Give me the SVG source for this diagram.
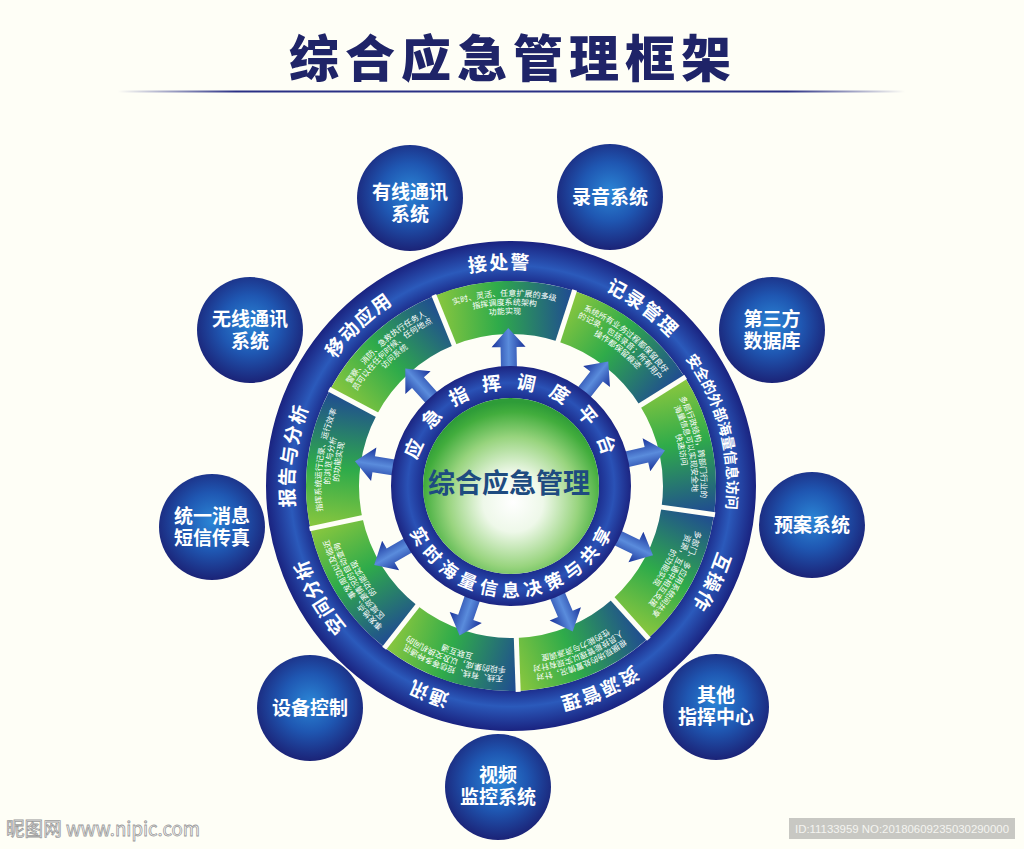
<svg xmlns="http://www.w3.org/2000/svg" width="1024" height="849" viewBox="0 0 1024 849">
<defs>
<style>
.t{font-family:"Noto Sans CJK SC","Noto Sans",sans-serif;font-weight:700;fill:#fff;text-anchor:middle}
.ot{font-size:19px;letter-spacing:1.5px}
.d{font-family:"Noto Sans CJK SC","Noto Sans",sans-serif;font-size:8px;fill:#fff;text-anchor:middle}
.sat text{font-family:"Liberation Sans","Noto Sans CJK SC",sans-serif;font-weight:700;font-size:19px;fill:#fff;text-anchor:middle}
.div{stroke:#fefef6;stroke-width:5}
</style>
<radialGradient id="band" gradientUnits="userSpaceOnUse" cx="0" cy="0" r="245">
<stop offset="0.83" stop-color="#1c2b8a"/>
<stop offset="0.9" stop-color="#2b5abb"/>
<stop offset="1" stop-color="#1a2380"/>
</radialGradient>
<radialGradient id="iring" gradientUnits="userSpaceOnUse" cx="0" cy="0" r="120">
<stop offset="0.72" stop-color="#1b2a8a"/>
<stop offset="0.86" stop-color="#2a52b6"/>
<stop offset="1" stop-color="#1c2582"/>
</radialGradient>
<radialGradient id="sphere" gradientUnits="userSpaceOnUse" cx="2" cy="16" r="100">
<stop offset="0" stop-color="#ffffff"/>
<stop offset="0.3" stop-color="#eef8e9"/>
<stop offset="0.65" stop-color="#98d47e"/>
<stop offset="0.9" stop-color="#42ad3d"/>
<stop offset="1" stop-color="#2e9c38"/>
</radialGradient>
<radialGradient id="satg" cx="0.5" cy="0.45" r="0.55">
<stop offset="0" stop-color="#2b86d6"/>
<stop offset="0.5" stop-color="#1f57b2"/>
<stop offset="1" stop-color="#1b2377"/>
</radialGradient>
<linearGradient id="gA" x1="0" y1="0" x2="1" y2="0">
<stop offset="0" stop-color="#8dc83e"/>
<stop offset="0.45" stop-color="#2fab4a"/>
<stop offset="1" stop-color="#1f4894"/>
</linearGradient>
<linearGradient id="gB" x1="1" y1="0" x2="0" y2="0">
<stop offset="0" stop-color="#8dc83e"/>
<stop offset="0.45" stop-color="#2fab4a"/>
<stop offset="1" stop-color="#1f4894"/>
</linearGradient>
<linearGradient id="arr" x1="0" y1="0" x2="1" y2="0">
<stop offset="0" stop-color="#1a339a"/>
<stop offset="0.5" stop-color="#5a8cdc"/>
<stop offset="1" stop-color="#1a339a"/>
</linearGradient>
<linearGradient id="hl" x1="0" y1="0" x2="1" y2="0">
<stop offset="0" stop-color="#2a3085" stop-opacity="0"/>
<stop offset="0.15" stop-color="#2a3085"/>
<stop offset="0.85" stop-color="#2a3085"/>
<stop offset="1" stop-color="#2a3085" stop-opacity="0"/>
</linearGradient>
<path id="seg" d="M -70.11,-192.64 A 205 205 0 0 1 70.11,-192.64 L 51.99,-142.83 A 152 152 0 0 0 -51.99,-142.83 Z"/>
<line id="dv" class="div" x1="-51.3" y1="-140.95" x2="-70.46" y2="-193.58"/>
<polygon id="arrow" fill="url(#arr)" points="-8,-108 8,-108 8,-139 17,-139 0,-158 -17,-139 -8,-139"/>
<path id="pT217" d="M -217,0 A 217 217 0 0 1 217,0"/>
<path id="pT216" d="M -216,0 A 216 216 0 0 1 216,0"/>
<path id="pD190" d="M -190,0 A 190 190 0 0 1 190,0"/>
<path id="pD181" d="M -181,0 A 181 181 0 0 1 181,0"/>
<path id="pD172" d="M -172,0 A 172 172 0 0 1 172,0"/>
<path id="pI97" d="M -97,0 A 97 97 0 0 1 97,0"/>
<path id="pB111" d="M -111,0 A 111 111 0 0 0 111,0"/>
</defs>
<rect width="1024" height="849" fill="#fefef6"/>
<g id="title">
<text x="513" y="77" font-family="'Noto Sans CJK SC',sans-serif" font-weight="900" font-size="50" letter-spacing="6" fill="#1f2468" text-anchor="middle">综合应急管理框架</text>
<rect x="118" y="90.5" width="787" height="2" fill="url(#hl)"/>
</g>
<g id="wheel" transform="translate(511,486)">
<circle id="outer-band" r="225" fill="none" stroke="url(#band)" stroke-width="40"/>
<g id="seg-jiechujing" transform="rotate(-2)">
<use href="#seg" fill="url(#gA)"/>
<text class="d"><textPath href="#pD190" startOffset="50%">实时、灵活、任意扩展的多级</textPath></text>
<text class="d"><textPath href="#pD181" startOffset="50%">指挥调度系统架构</textPath></text>
<text class="d"><textPath href="#pD172" startOffset="50%">功能实现</textPath></text>
<text class="t ot" transform="rotate(-1)"><textPath href="#pT217" startOffset="50%">接处警</textPath></text>
</g>
<g id="seg-jilu" transform="rotate(38)">
<use href="#seg" fill="url(#gA)"/>
<text class="d"><textPath href="#pD190" startOffset="50%">系统所有业务过程都保留良好</textPath></text>
<text class="d"><textPath href="#pD181" startOffset="50%">的记录，包括录音；所有用户</textPath></text>
<text class="d"><textPath href="#pD172" startOffset="50%">操作都保留痕迹</textPath></text>
<text class="t ot" transform="rotate(-1.5)"><textPath href="#pT217" startOffset="50%">记录管理</textPath></text>
</g>
<g id="seg-anquan" transform="rotate(78)">
<use href="#seg" fill="url(#gA)"/>
<text class="d"><textPath href="#pD190" startOffset="50%">多层行政结构，跨部门行业的</textPath></text>
<text class="d"><textPath href="#pD181" startOffset="50%">海量信息可以实现安全地</textPath></text>
<text class="d"><textPath href="#pD172" startOffset="50%">快速访问</textPath></text>
<text class="t" font-size="14.5" transform="rotate(-3)"><textPath href="#pT216" startOffset="50%">安全的外部海量信息访问</textPath></text>
</g>
<g id="seg-hucaozuo" transform="rotate(118)">
<use href="#seg" fill="url(#gB)"/>
<text class="d"><textPath href="#pD190" startOffset="50%">多部门、多应用系统间共享</textPath></text>
<text class="d"><textPath href="#pD181" startOffset="50%">资源，互通中相互支援</textPath></text>
<text class="d"><textPath href="#pD172" startOffset="50%">的功能实现</textPath></text>
<text class="t ot" transform="rotate(-2.4)"><textPath href="#pT217" startOffset="50%">互操作</textPath></text>
</g>
<g id="seg-ziyuan" transform="rotate(158)">
<use href="#seg" fill="url(#gB)"/>
<text class="d"><textPath href="#pD190" startOffset="50%">根据现场的处置情况，针对</textPath></text>
<text class="d"><textPath href="#pD181" startOffset="50%">人员技能管理以实现有针对</textPath></text>
<text class="d"><textPath href="#pD172" startOffset="50%">性的能力与资源调度</textPath></text>
<text class="t ot" transform="rotate(-1.5)"><textPath href="#pT217" startOffset="50%">资源管理</textPath></text>
</g>
<g id="seg-tongxun" transform="rotate(198)">
<use href="#seg" fill="url(#gB)"/>
<text class="d"><textPath href="#pD190" startOffset="50%">无线、有线、短信等多种通讯</textPath></text>
<text class="d"><textPath href="#pD181" startOffset="50%">手段的集成，以及交换机间的</textPath></text>
<text class="d"><textPath href="#pD172" startOffset="50%">互联互通</textPath></text>
<text class="t ot" transform="rotate(3.8)"><textPath href="#pT217" startOffset="50%">通讯</textPath></text>
</g>
<g id="seg-kongjian" transform="rotate(238)">
<use href="#seg" fill="url(#gB)"/>
<text class="d"><textPath href="#pD190" startOffset="50%">事发地点、事发周边以及临近</textPath></text>
<text class="d"><textPath href="#pD181" startOffset="50%">区域资源情况的自动查询</textPath></text>
<text class="d"><textPath href="#pD172" startOffset="50%">的功能实现</textPath></text>
<text class="t ot" transform="rotate(2)"><textPath href="#pT217" startOffset="50%">空间分析</textPath></text>
</g>
<g id="seg-baogao" transform="rotate(278)">
<use href="#seg" fill="url(#gA)"/>
<text class="d"><textPath href="#pD190" startOffset="50%">指挥系统运行记录、运行效率</textPath></text>
<text class="d"><textPath href="#pD181" startOffset="50%">的浏览与分析</textPath></text>
<text class="d"><textPath href="#pD172" startOffset="50%">的功能实现</textPath></text>
<text class="t ot" transform="rotate(0)"><textPath href="#pT217" startOffset="50%">报告与分析</textPath></text>
</g>
<g id="seg-yidong" transform="rotate(318)">
<use href="#seg" fill="url(#gA)"/>
<text class="d"><textPath href="#pD190" startOffset="50%">警察、消防、急救执行任务人</textPath></text>
<text class="d"><textPath href="#pD181" startOffset="50%">员可以在任何时候、任何地点</textPath></text>
<text class="d"><textPath href="#pD172" startOffset="50%">访问系统</textPath></text>
<text class="t ot" transform="rotate(-1.4)"><textPath href="#pT217" startOffset="50%">移动应用</textPath></text>
</g>
<g id="dividers">
<use href="#dv" transform="rotate(-2)"/>
<use href="#dv" transform="rotate(38)"/>
<use href="#dv" transform="rotate(78)"/>
<use href="#dv" transform="rotate(118)"/>
<use href="#dv" transform="rotate(158)"/>
<use href="#dv" transform="rotate(198)"/>
<use href="#dv" transform="rotate(238)"/>
<use href="#dv" transform="rotate(278)"/>
<use href="#dv" transform="rotate(318)"/>
</g>
<g id="connectors">
<use href="#arrow" transform="rotate(-1)"/>
<use href="#arrow" transform="rotate(38)"/>
<use href="#arrow" transform="rotate(77)"/>
<use href="#arrow" transform="rotate(116)"/>
<use href="#arrow" transform="rotate(157)"/>
<use href="#arrow" transform="rotate(199)"/>
<use href="#arrow" transform="rotate(240)"/>
<use href="#arrow" transform="rotate(279)"/>
<use href="#arrow" transform="rotate(318)"/>
</g>
<g id="core">
<circle r="104" fill="none" stroke="url(#iring)" stroke-width="32"/>
<circle r="88" fill="url(#sphere)"/>
<text class="t" font-size="19" letter-spacing="13.7" transform="rotate(-1.5)"><textPath href="#pI97" startOffset="159">应急指挥调度平台</textPath></text>
<text class="t" font-size="18" letter-spacing="5.6"><textPath href="#pB111" startOffset="177">实时海量信息决策与共享</textPath></text>
<text x="-2" y="7" font-family="'Noto Sans CJK SC',sans-serif" font-weight="700" font-size="27" fill="#1e4b80" text-anchor="middle">综合应急管理</text>
</g>
</g>
<g id="sat-youxian" class="sat"><circle cx="410" cy="198" r="53" fill="url(#satg)"/><text x="410" y="199">有线通讯<tspan x="410" dy="22">系统</tspan></text></g>
<g id="sat-luyin" class="sat"><circle cx="610" cy="197" r="53" fill="url(#satg)"/><text x="610" y="204">录音系统</text></g>
<g id="sat-disanfang" class="sat"><circle cx="772" cy="330" r="53" fill="url(#satg)"/><text x="772" y="326">第三方<tspan x="772" dy="22">数据库</tspan></text></g>
<g id="sat-yuan" class="sat"><circle cx="812" cy="525" r="53" fill="url(#satg)"/><text x="812" y="532">预案系统</text></g>
<g id="sat-qita" class="sat"><circle cx="716" cy="707" r="53" fill="url(#satg)"/><text x="716" y="702">其他<tspan x="716" dy="22">指挥中心</tspan></text></g>
<g id="sat-shipin" class="sat"><circle cx="498" cy="787" r="53" fill="url(#satg)"/><text x="498" y="782">视频<tspan x="498" dy="22">监控系统</tspan></text></g>
<g id="sat-shebei" class="sat"><circle cx="310" cy="708" r="53" fill="url(#satg)"/><text x="310" y="715">设备控制</text></g>
<g id="sat-tongyi" class="sat"><circle cx="212" cy="527" r="53" fill="url(#satg)"/><text x="212" y="523">统一消息<tspan x="212" dy="22">短信传真</tspan></text></g>
<g id="sat-wuxian" class="sat"><circle cx="250" cy="330" r="53" fill="url(#satg)"/><text x="250" y="326">无线通讯<tspan x="250" dy="22">系统</tspan></text></g>
<g id="watermark">
<text x="6" y="836" font-family="'Noto Sans CJK SC',sans-serif" font-size="19" fill="#fff" stroke="#9a9a9a" stroke-width="0.8" textLength="194" lengthAdjust="spacingAndGlyphs">昵图网 www.nipic.com</text>
<rect x="789" y="818" width="226" height="21" fill="#c8c8c3"/>
<text x="902" y="833" font-family="'Liberation Sans',sans-serif" font-size="11" fill="#f4f4f0" text-anchor="middle" textLength="214" lengthAdjust="spacingAndGlyphs">ID:11133959 NO:20180609235030290000</text>
</g>
</svg>
